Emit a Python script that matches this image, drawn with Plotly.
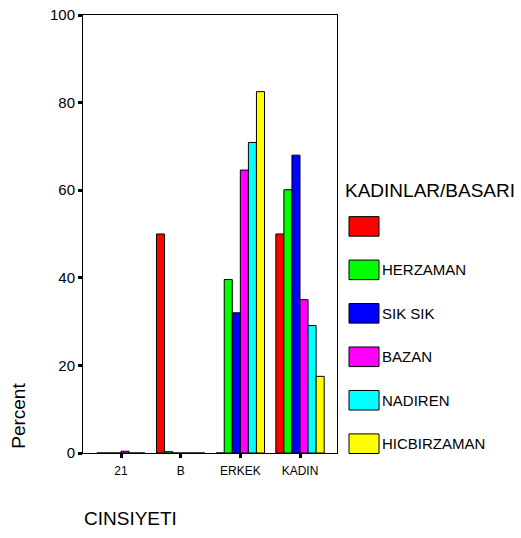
import plotly.graph_objects as go

categories = ["21", "B", "ERKEK", "KADIN"]
series_names = ["", "HERZAMAN", "SIK SIK", "BAZAN", "NADIREN", "HICBIRZAMAN"]
series_colors = ["#FF0000", "#00FF00", "#0000FF", "#FF00FF", "#00FFFF", "#FFFF00"]
red_vals = [0, 50.0, 0, 50.0]
herzaman_vals = [0, 0.3, 39.6, 60.1]
siksik_vals = [0, 0, 32.0, 68.0]
bazan_vals = [0.4, 0, 64.6, 35.0]
nadiren_vals = [0, 0, 70.9, 29.1]
hicbirzaman_vals = [0, 0, 82.5, 17.5]
series_values = [red_vals, herzaman_vals, siksik_vals, bazan_vals, nadiren_vals, hicbirzaman_vals]
y_ticks = [0, 20, 40, 60, 80, 100]

FONT = "Arial, Liberation Sans, sans-serif"
W, H = 521, 538
L, R, T, B = 83, 337, 6, 453.5

def px(x):
    return (x - L) / (R - L)

def py(y):
    return (B - y) / (B - T)

fig = go.Figure()
for name, vals, col in zip(series_names, series_values, series_colors):
    fig.add_trace(go.Bar(
        x=categories, y=vals, name=name if name else " ",
        marker=dict(color=col, line=dict(color="black", width=1)),
        showlegend=False,
    ))

shapes = []
annotations = []
# manual legend
annotations.append(dict(text="KADINLAR/BASARI", x=px(343), y=py(185.5), xref="paper", yref="paper",
                        xanchor="left", yanchor="middle", showarrow=False,
                        font=dict(family=FONT, size=19, color="black")))
for i, (name, col) in enumerate(zip(series_names, series_colors)):
    cy = 222 + i * 44.4
    shapes.append(dict(type="rect", xref="paper", yref="paper",
                       x0=px(349), x1=px(379), y0=py(cy - 10), y1=py(cy + 10),
                       fillcolor=col, line=dict(color="black", width=1)))
    if name:
        annotations.append(dict(text=name, x=px(380), y=py(cy), xref="paper", yref="paper",
                                xanchor="left", yanchor="middle", showarrow=False,
                                font=dict(family=FONT, size=15, color="black")))
# axis titles
annotations.append(dict(text="Percent", x=px(18.5), y=py(416), xref="paper", yref="paper",
                        textangle=-90, xanchor="center", yanchor="middle", showarrow=False,
                        font=dict(family=FONT, size=19, color="black")))
annotations.append(dict(text="CINSIYETI", x=px(82), y=py(520.5), xref="paper", yref="paper",
                        xanchor="left", yanchor="middle", showarrow=False,
                        font=dict(family=FONT, size=19, color="black")))

fig.update_layout(
    width=W, height=H,
    margin=dict(l=L, r=W - R, t=T, b=H - B, pad=0),
    paper_bgcolor="white", plot_bgcolor="white",
    barmode="group", bargap=0.19, bargroupgap=0,
    showlegend=False,
    shapes=shapes, annotations=annotations,
    xaxis=dict(
        type="category", range=[-0.637, 3.62],
        showline=True, linecolor="black", linewidth=1, mirror=True,
        ticks="outside", ticklen=4, tickwidth=3, tickcolor="black",
        showgrid=False, zeroline=False, ticklabelstandoff=3,
        tickfont=dict(family=FONT, size=12, color="black"),
    ),
    yaxis=dict(
        range=[0, 100], tickvals=y_ticks,
        showline=True, linecolor="black", linewidth=1, mirror=True,
        ticks="outside", ticklen=4, tickwidth=3, tickcolor="black",
        showgrid=False, zeroline=False, ticklabeloverflow="allow",
        tickfont=dict(family=FONT, size=15, color="black"),
    ),
)

fig.write_html("out.html", config={"displayModeBar": False},
               post_script="document.body.style.margin='0';document.body.style.overflow='hidden';")
